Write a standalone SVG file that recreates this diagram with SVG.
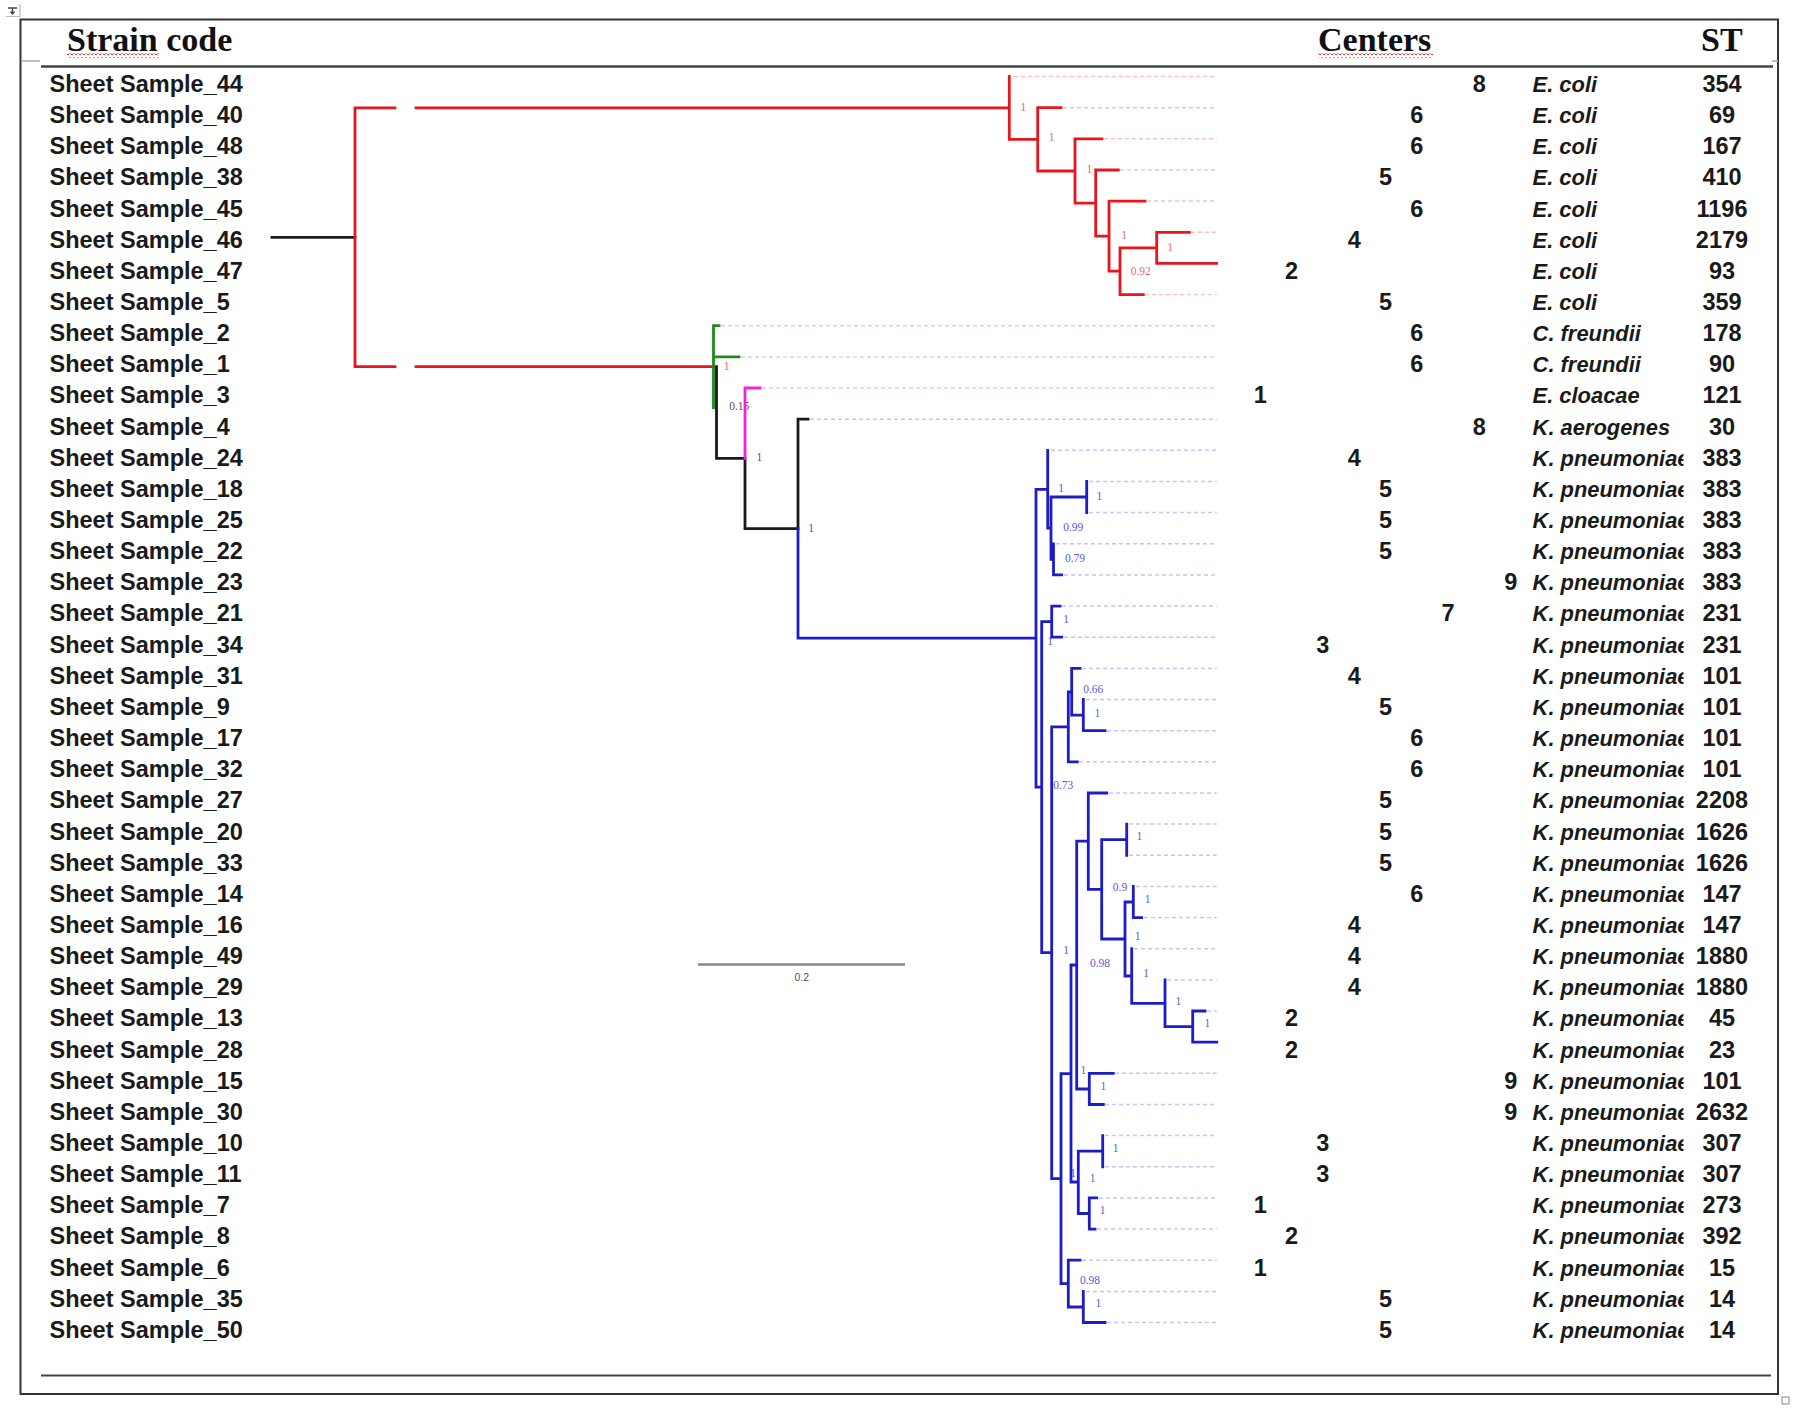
<svg xmlns="http://www.w3.org/2000/svg" width="1796" height="1412" viewBox="0 0 1796 1412">
<defs>
<style>
.lbl{font-family:"Liberation Sans",Arial,sans-serif;font-weight:bold;font-size:23.5px;fill:#1a1a1a}
.ctr{font-family:"Liberation Sans",Arial,sans-serif;font-weight:bold;font-size:23.5px;fill:#1a1a1a;text-anchor:middle}
.sp{font-family:"Liberation Sans",Arial,sans-serif;font-weight:bold;font-style:italic;font-size:21.9px;fill:#1a1a1a}
.st{font-family:"Liberation Sans",Arial,sans-serif;font-weight:bold;font-size:23.5px;fill:#1a1a1a;text-anchor:middle}
.hdr{font-family:"Liberation Serif","Times New Roman",serif;font-weight:bold;font-size:34px;fill:#111}
.br{fill:none;stroke-width:2.8;stroke-linecap:square}
.red{stroke:#e8161c}.blue{stroke:#1c1cc8}.grn{stroke:#1f8a1f}.mag{stroke:#ee22ee}.blk{stroke:#1a1a1a}
.dash{fill:none;stroke-width:1.5;stroke-dasharray:4 3}
.dr{stroke:#f5c4c4}.db{stroke:#c6c6f0}.dg{stroke:#c4e4c4}.dm{stroke:#f2c4f2}.dk{stroke:#cccccc}
.sv{font-family:"Liberation Serif","Times New Roman",serif;font-size:11.5px;text-anchor:middle}
.svr{fill:#e86a6a}.svb{fill:#5a5ad8}.svk{fill:#555}
.frame{fill:none;stroke:#333;stroke-width:2}
</style>
<clipPath id="spc" clipPathUnits="userSpaceOnUse"><rect x="1520" y="-40" width="163.5" height="60"/></clipPath>
<pattern id="wavy" width="4" height="4" patternUnits="userSpaceOnUse"><path d="M0,3 L2,1 L4,3" fill="none" stroke="#e01818" stroke-width="0.9"/></pattern>
</defs>
<rect width="1796" height="1412" fill="#fff"/>

<g id="table-frame">
<rect class="frame" x="20.5" y="19.5" width="1757.5" height="1374.5"/>
<line x1="41" y1="66.5" x2="1773" y2="66.5" stroke="#444" stroke-width="2.5"/>
<line x1="41" y1="1375.5" x2="1771" y2="1375.5" stroke="#444" stroke-width="2"/>
<line x1="22" y1="61" x2="40" y2="61" stroke="#aaa" stroke-width="1.5"/>
<line x1="1772" y1="61" x2="1778" y2="61" stroke="#aaa" stroke-width="1.5"/>
<path d="M6,16.5 H20 V4" fill="none" stroke="#bbb" stroke-width="1.2"/>
<path d="M8,8 H17 M12.5,8 V14 M10.5,11.5 L12.5,14 L14.5,11.5" fill="none" stroke="#444" stroke-width="1.3"/>
<rect x="1782" y="1397" width="7" height="7" fill="#fff" stroke="#888" stroke-width="1"/>
</g>

<g id="headers">
<text class="hdr" x="67" y="51">Strain code</text>
<text class="hdr" x="1318" y="51">Centers</text>
<text class="hdr" x="1701" y="51">ST</text>
<rect x="67" y="53.5" width="92" height="4" fill="url(#wavy)"/>
<rect x="1318" y="53.5" width="115" height="4" fill="url(#wavy)"/>
</g>

<g id="support-values">
<text class="sv svr" x="1023.3" y="110.7">1</text>
<text class="sv svr" x="1051.7" y="141.3">1</text>
<text class="sv svr" x="1089.3" y="173">1</text>
<text class="sv svr" x="1124" y="239">1</text>
<text class="sv svr" x="1170" y="250.7">1</text>
<text class="sv svr" x="1140.7" y="274.7">0.92</text>
<text class="sv svr" x="726.7" y="369.7">1</text>
<text class="sv svk" x="739.3" y="410">0.15</text>
<text class="sv svk" x="759.3" y="460.7">1</text>
<text class="sv svk" x="811" y="532.3">1</text>
<text class="sv svb" x="1061" y="492.3">1</text>
<text class="sv svb" x="1099.3" y="500">1</text>
<text class="sv svb" x="1073.3" y="530.7">0.99</text>
<text class="sv svb" x="1075" y="561.7">0.79</text>
<text class="sv svb" x="1066" y="623">1</text>
<text class="sv svb" x="1050" y="645">1</text>
<text class="sv svb" x="1093.3" y="693.3">0.66</text>
<text class="sv svb" x="1097.3" y="717.3">1</text>
<text class="sv svb" x="1063.3" y="789">0.73</text>
<text class="sv svb" x="1139.3" y="840">1</text>
<text class="sv svb" x="1120" y="890.7">0.9</text>
<text class="sv svb" x="1147.7" y="903">1</text>
<text class="sv svb" x="1137.7" y="940">1</text>
<text class="sv svb" x="1066" y="954">1</text>
<text class="sv svb" x="1100" y="966.7">0.98</text>
<text class="sv svb" x="1146" y="977.3">1</text>
<text class="sv svb" x="1178.3" y="1005">1</text>
<text class="sv svb" x="1207.3" y="1027.3">1</text>
<text class="sv svb" x="1083.3" y="1074">1</text>
<text class="sv svb" x="1103.3" y="1089.7">1</text>
<text class="sv svb" x="1115.7" y="1152.3">1</text>
<text class="sv svb" x="1073" y="1177">1</text>
<text class="sv svb" x="1092.7" y="1182.3">1</text>
<text class="sv svb" x="1102.7" y="1214">1</text>
<text class="sv svb" x="1090" y="1284">0.98</text>
<text class="sv svb" x="1098.3" y="1307.3">1</text>
</g>

<g id="connectors">
<path class="dash dr" d="M1014,76.5 H1216.7 M1063,107.7 H1216.7 M1104,138.8 H1216.7 M1120,170 H1216.7 M1147,201.1 H1216.7 M1191,232.3 H1216.7 M1145,294.6 H1216.7"/>
<path class="dash dg" d="M721,325.7 H1216.7 M741,356.9 H1216.7"/>
<path class="dash dm" d="M762,388 H1216.7"/>
<path class="dash dk" d="M810,419.2 H1216.7"/>
<path class="dash db" d="M1051,450.3 H1216.7 M1089,481.5 H1216.7 M1089,512.6 H1216.7 M1056,543.8 H1216.7 M1064,574.9 H1216.7 M1062,606.1 H1216.7 M1064,637.2 H1216.7 M1082,668.4 H1216.7 M1086,699.5 H1216.7 M1107,730.7 H1216.7 M1079,761.8 H1216.7 M1109,793 H1216.7 M1129,824.1 H1216.7 M1129,855.3 H1216.7 M1136,886.4 H1216.7 M1144,917.6 H1216.7 M1134,948.7 H1216.7 M1167,979.9 H1216.7 M1207,1011 H1216.7 M1115,1073.3 H1216.7 M1105,1104.5 H1216.7 M1105,1135.6 H1216.7 M1105,1166.8 H1216.7 M1099,1197.9 H1216.7 M1097,1229.1 H1216.7 M1082,1260.2 H1216.7 M1086,1291.4 H1216.7 M1107,1322.5 H1216.7"/>

<path class="br blk" d="M272,237.3 H355"/>
<path class="br red" d="M355,107.9 V366.7 M355,107.9 H395 M416,107.9 H1009.3 M355,366.7 H395 M416,366.7 H713.5
M1009.3,76.5 V139.3 M1009.3,139.3 H1037.7 M1037.7,107.7 V171 M1037.7,107.7 H1061 M1037.7,171 H1075
M1075,138.8 V203.1 M1075,138.8 H1102 M1075,203.1 H1095.7 M1095.7,170 V236.2 M1095.7,170 H1118.3
M1095.7,236.2 H1109 M1109,201.1 V271.2 M1109,201.1 H1145 M1109,271.2 H1120 M1120,247.9 V294.6
M1120,294.6 H1143.3 M1120,247.9 H1156.7 M1156.7,232.3 V263.4 M1156.7,232.3 H1189.3 M1156.7,263.4 H1216.7"/>
<path class="br grn" d="M713.5,325.7 V407.6 M713.5,325.7 H719 M713.5,356.9 H739"/>
<path class="br blk" d="M716.5,366.7 V458.4 M716.5,458.4 H745 M745,458.4 V528.7 M745,528.7 H798 M798,419.2 V528.7 M798,419.2 H808"/>
<path class="br mag" d="M745,388 V458.4 M745,388 H760"/>
<path class="br blue" d="M798,528.7 V638.2 M798,638.2 H1036
M1036,489.3 V787.2 M1036,489.3 H1047.7 M1047.7,450.3 V528.2 M1047.7,528.2 H1051 M1051,497 V559.4
M1051,497 H1086.7 M1086.7,481.5 V512.6 M1051,559.4 H1053.5 M1053.5,543.8 V574.9 M1053.5,574.9 H1061.7
M1036,787.2 H1041.7 M1041.7,621.7 V952.7 M1041.7,621.7 H1051.7 M1051.7,606.1 V637.2 M1051.7,606.1 H1060 M1051.7,637.2 H1061.7
M1041.7,952.7 H1051.7 M1051.7,726.8 V1178.6 M1051.7,726.8 H1068.3 M1068.3,691.8 V761.8 M1068.3,761.8 H1077.3
M1068.3,691.8 H1071.7 M1071.7,668.4 V715.1 M1071.7,668.4 H1080 M1071.7,715.1 H1083.3 M1083.3,699.5 V730.7 M1083.3,730.7 H1105
M1051.7,1178.6 H1061 M1061,1073.6 V1283.6 M1061,1073.6 H1071 M1071,965 V1182 M1071,965 H1076.7
M1076.7,841.2 V1089 M1076.7,841.2 H1088.3 M1088.3,793 V889.4 M1088.3,793 H1106.7 M1088.3,889.4 H1101.7
M1101.7,839.7 V939 M1101.7,839.7 H1126.7 M1126.7,824.1 V855.3 M1101.7,939 H1125 M1125,902 V976
M1125,902 H1133.3 M1133.3,886.4 V917.6 M1133.3,917.6 H1141.7 M1125,976 H1131.7 M1131.7,948.7 V1003.3
M1131.7,1003.3 H1165 M1165,979.9 V1026.6 M1165,1026.6 H1192.7 M1192.7,1011 V1042.2 M1192.7,1011 H1205 M1192.7,1042.2 H1216.7
M1076.7,1089 H1089.3 M1089.3,1073.3 V1104.5 M1089.3,1073.3 H1113.3 M1089.3,1104.5 H1103.3
M1071,1182 H1078.3 M1078.3,1151.2 V1213.5 M1078.3,1151.2 H1102.7 M1102.7,1135.6 V1166.8
M1078.3,1213.5 H1089.3 M1089.3,1197.9 V1229.1 M1089.3,1197.9 H1096.7 M1089.3,1229.1 H1095
M1061,1283.6 H1068.3 M1068.3,1260.2 V1307 M1068.3,1260.2 H1080 M1068.3,1307 H1083.3 M1083.3,1291.4 V1322.5 M1083.3,1322.5 H1105"/>
</g>

<g id="scale-bar">
<line x1="698" y1="964.5" x2="905" y2="964.5" stroke="#888" stroke-width="2.5"/>
<text x="801.7" y="980.5" font-family="Liberation Sans, Arial, sans-serif" font-size="10.5" fill="#555" text-anchor="middle">0.2</text>
</g>

<g id="row-44" transform="translate(0,91.9)"><text class="lbl" x="49.5">Sheet Sample_44</text><text class="ctr" x="1479.4">8</text><text class="sp" x="1532.6" clip-path="url(#spc)">E. coli</text><text class="st" x="1722">354</text></g>
<g id="row-40" transform="translate(0,123.05)"><text class="lbl" x="49.5">Sheet Sample_40</text><text class="ctr" x="1416.8">6</text><text class="sp" x="1532.6" clip-path="url(#spc)">E. coli</text><text class="st" x="1722">69</text></g>
<g id="row-48" transform="translate(0,154.2)"><text class="lbl" x="49.5">Sheet Sample_48</text><text class="ctr" x="1416.8">6</text><text class="sp" x="1532.6" clip-path="url(#spc)">E. coli</text><text class="st" x="1722">167</text></g>
<g id="row-38" transform="translate(0,185.35)"><text class="lbl" x="49.5">Sheet Sample_38</text><text class="ctr" x="1385.5">5</text><text class="sp" x="1532.6" clip-path="url(#spc)">E. coli</text><text class="st" x="1722">410</text></g>
<g id="row-45" transform="translate(0,216.5)"><text class="lbl" x="49.5">Sheet Sample_45</text><text class="ctr" x="1416.8">6</text><text class="sp" x="1532.6" clip-path="url(#spc)">E. coli</text><text class="st" x="1722">1196</text></g>
<g id="row-46" transform="translate(0,247.65)"><text class="lbl" x="49.5">Sheet Sample_46</text><text class="ctr" x="1354.2">4</text><text class="sp" x="1532.6" clip-path="url(#spc)">E. coli</text><text class="st" x="1722">2179</text></g>
<g id="row-47" transform="translate(0,278.8)"><text class="lbl" x="49.5">Sheet Sample_47</text><text class="ctr" x="1291.6">2</text><text class="sp" x="1532.6" clip-path="url(#spc)">E. coli</text><text class="st" x="1722">93</text></g>
<g id="row-5" transform="translate(0,309.95)"><text class="lbl" x="49.5">Sheet Sample_5</text><text class="ctr" x="1385.5">5</text><text class="sp" x="1532.6" clip-path="url(#spc)">E. coli</text><text class="st" x="1722">359</text></g>
<g id="row-2" transform="translate(0,341.1)"><text class="lbl" x="49.5">Sheet Sample_2</text><text class="ctr" x="1416.8">6</text><text class="sp" x="1532.6" clip-path="url(#spc)">C. freundii</text><text class="st" x="1722">178</text></g>
<g id="row-1" transform="translate(0,372.25)"><text class="lbl" x="49.5">Sheet Sample_1</text><text class="ctr" x="1416.8">6</text><text class="sp" x="1532.6" clip-path="url(#spc)">C. freundii</text><text class="st" x="1722">90</text></g>
<g id="row-3" transform="translate(0,403.4)"><text class="lbl" x="49.5">Sheet Sample_3</text><text class="ctr" x="1260.3">1</text><text class="sp" x="1532.6" clip-path="url(#spc)">E. cloacae</text><text class="st" x="1722">121</text></g>
<g id="row-4" transform="translate(0,434.55)"><text class="lbl" x="49.5">Sheet Sample_4</text><text class="ctr" x="1479.4">8</text><text class="sp" x="1532.6" clip-path="url(#spc)">K. aerogenes</text><text class="st" x="1722">30</text></g>
<g id="row-24" transform="translate(0,465.7)"><text class="lbl" x="49.5">Sheet Sample_24</text><text class="ctr" x="1354.2">4</text><text class="sp" x="1532.6" clip-path="url(#spc)">K. pneumoniae</text><text class="st" x="1722">383</text></g>
<g id="row-18" transform="translate(0,496.85)"><text class="lbl" x="49.5">Sheet Sample_18</text><text class="ctr" x="1385.5">5</text><text class="sp" x="1532.6" clip-path="url(#spc)">K. pneumoniae</text><text class="st" x="1722">383</text></g>
<g id="row-25" transform="translate(0,528)"><text class="lbl" x="49.5">Sheet Sample_25</text><text class="ctr" x="1385.5">5</text><text class="sp" x="1532.6" clip-path="url(#spc)">K. pneumoniae</text><text class="st" x="1722">383</text></g>
<g id="row-22" transform="translate(0,559.15)"><text class="lbl" x="49.5">Sheet Sample_22</text><text class="ctr" x="1385.5">5</text><text class="sp" x="1532.6" clip-path="url(#spc)">K. pneumoniae</text><text class="st" x="1722">383</text></g>
<g id="row-23" transform="translate(0,590.3)"><text class="lbl" x="49.5">Sheet Sample_23</text><text class="ctr" x="1510.7">9</text><text class="sp" x="1532.6" clip-path="url(#spc)">K. pneumoniae</text><text class="st" x="1722">383</text></g>
<g id="row-21" transform="translate(0,621.45)"><text class="lbl" x="49.5">Sheet Sample_21</text><text class="ctr" x="1448.1">7</text><text class="sp" x="1532.6" clip-path="url(#spc)">K. pneumoniae</text><text class="st" x="1722">231</text></g>
<g id="row-34" transform="translate(0,652.6)"><text class="lbl" x="49.5">Sheet Sample_34</text><text class="ctr" x="1322.9">3</text><text class="sp" x="1532.6" clip-path="url(#spc)">K. pneumoniae</text><text class="st" x="1722">231</text></g>
<g id="row-31" transform="translate(0,683.75)"><text class="lbl" x="49.5">Sheet Sample_31</text><text class="ctr" x="1354.2">4</text><text class="sp" x="1532.6" clip-path="url(#spc)">K. pneumoniae</text><text class="st" x="1722">101</text></g>
<g id="row-9" transform="translate(0,714.9)"><text class="lbl" x="49.5">Sheet Sample_9</text><text class="ctr" x="1385.5">5</text><text class="sp" x="1532.6" clip-path="url(#spc)">K. pneumoniae</text><text class="st" x="1722">101</text></g>
<g id="row-17" transform="translate(0,746.05)"><text class="lbl" x="49.5">Sheet Sample_17</text><text class="ctr" x="1416.8">6</text><text class="sp" x="1532.6" clip-path="url(#spc)">K. pneumoniae</text><text class="st" x="1722">101</text></g>
<g id="row-32" transform="translate(0,777.2)"><text class="lbl" x="49.5">Sheet Sample_32</text><text class="ctr" x="1416.8">6</text><text class="sp" x="1532.6" clip-path="url(#spc)">K. pneumoniae</text><text class="st" x="1722">101</text></g>
<g id="row-27" transform="translate(0,808.35)"><text class="lbl" x="49.5">Sheet Sample_27</text><text class="ctr" x="1385.5">5</text><text class="sp" x="1532.6" clip-path="url(#spc)">K. pneumoniae</text><text class="st" x="1722">2208</text></g>
<g id="row-20" transform="translate(0,839.5)"><text class="lbl" x="49.5">Sheet Sample_20</text><text class="ctr" x="1385.5">5</text><text class="sp" x="1532.6" clip-path="url(#spc)">K. pneumoniae</text><text class="st" x="1722">1626</text></g>
<g id="row-33" transform="translate(0,870.65)"><text class="lbl" x="49.5">Sheet Sample_33</text><text class="ctr" x="1385.5">5</text><text class="sp" x="1532.6" clip-path="url(#spc)">K. pneumoniae</text><text class="st" x="1722">1626</text></g>
<g id="row-14" transform="translate(0,901.8)"><text class="lbl" x="49.5">Sheet Sample_14</text><text class="ctr" x="1416.8">6</text><text class="sp" x="1532.6" clip-path="url(#spc)">K. pneumoniae</text><text class="st" x="1722">147</text></g>
<g id="row-16" transform="translate(0,932.95)"><text class="lbl" x="49.5">Sheet Sample_16</text><text class="ctr" x="1354.2">4</text><text class="sp" x="1532.6" clip-path="url(#spc)">K. pneumoniae</text><text class="st" x="1722">147</text></g>
<g id="row-49" transform="translate(0,964.1)"><text class="lbl" x="49.5">Sheet Sample_49</text><text class="ctr" x="1354.2">4</text><text class="sp" x="1532.6" clip-path="url(#spc)">K. pneumoniae</text><text class="st" x="1722">1880</text></g>
<g id="row-29" transform="translate(0,995.25)"><text class="lbl" x="49.5">Sheet Sample_29</text><text class="ctr" x="1354.2">4</text><text class="sp" x="1532.6" clip-path="url(#spc)">K. pneumoniae</text><text class="st" x="1722">1880</text></g>
<g id="row-13" transform="translate(0,1026.4)"><text class="lbl" x="49.5">Sheet Sample_13</text><text class="ctr" x="1291.6">2</text><text class="sp" x="1532.6" clip-path="url(#spc)">K. pneumoniae</text><text class="st" x="1722">45</text></g>
<g id="row-28" transform="translate(0,1057.55)"><text class="lbl" x="49.5">Sheet Sample_28</text><text class="ctr" x="1291.6">2</text><text class="sp" x="1532.6" clip-path="url(#spc)">K. pneumoniae</text><text class="st" x="1722">23</text></g>
<g id="row-15" transform="translate(0,1088.7)"><text class="lbl" x="49.5">Sheet Sample_15</text><text class="ctr" x="1510.7">9</text><text class="sp" x="1532.6" clip-path="url(#spc)">K. pneumoniae</text><text class="st" x="1722">101</text></g>
<g id="row-30" transform="translate(0,1119.85)"><text class="lbl" x="49.5">Sheet Sample_30</text><text class="ctr" x="1510.7">9</text><text class="sp" x="1532.6" clip-path="url(#spc)">K. pneumoniae</text><text class="st" x="1722">2632</text></g>
<g id="row-10" transform="translate(0,1151)"><text class="lbl" x="49.5">Sheet Sample_10</text><text class="ctr" x="1322.9">3</text><text class="sp" x="1532.6" clip-path="url(#spc)">K. pneumoniae</text><text class="st" x="1722">307</text></g>
<g id="row-11" transform="translate(0,1182.15)"><text class="lbl" x="49.5">Sheet Sample_11</text><text class="ctr" x="1322.9">3</text><text class="sp" x="1532.6" clip-path="url(#spc)">K. pneumoniae</text><text class="st" x="1722">307</text></g>
<g id="row-7" transform="translate(0,1213.3)"><text class="lbl" x="49.5">Sheet Sample_7</text><text class="ctr" x="1260.3">1</text><text class="sp" x="1532.6" clip-path="url(#spc)">K. pneumoniae</text><text class="st" x="1722">273</text></g>
<g id="row-8" transform="translate(0,1244.45)"><text class="lbl" x="49.5">Sheet Sample_8</text><text class="ctr" x="1291.6">2</text><text class="sp" x="1532.6" clip-path="url(#spc)">K. pneumoniae</text><text class="st" x="1722">392</text></g>
<g id="row-6" transform="translate(0,1275.6)"><text class="lbl" x="49.5">Sheet Sample_6</text><text class="ctr" x="1260.3">1</text><text class="sp" x="1532.6" clip-path="url(#spc)">K. pneumoniae</text><text class="st" x="1722">15</text></g>
<g id="row-35" transform="translate(0,1306.75)"><text class="lbl" x="49.5">Sheet Sample_35</text><text class="ctr" x="1385.5">5</text><text class="sp" x="1532.6" clip-path="url(#spc)">K. pneumoniae</text><text class="st" x="1722">14</text></g>
<g id="row-50" transform="translate(0,1337.9)"><text class="lbl" x="49.5">Sheet Sample_50</text><text class="ctr" x="1385.5">5</text><text class="sp" x="1532.6" clip-path="url(#spc)">K. pneumoniae</text><text class="st" x="1722">14</text></g>
</svg>
